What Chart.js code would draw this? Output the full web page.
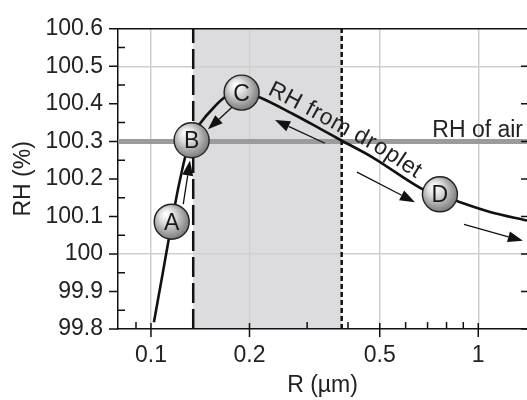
<!DOCTYPE html>
<html><head><meta charset="utf-8">
<script src="https://cdn.jsdelivr.net/npm/chart.js@4/dist/chart.umd.min.js"></script>
<style>html,body{margin:0;padding:0;background:#fff;}canvas{display:block;}</style>
</head><body>
<canvas id="c" width="527" height="400"></canvas>
<script>
// ---- data ----
const curveR  = [0.1021, 0.1088, 0.1159, 0.1226, 0.1316, 0.1411, 0.1558, 0.1707, 0.1896, 0.2154, 0.2716, 0.3283, 0.3806, 0.4764, 0.6775, 0.7636, 0.8792, 1.086, 1.409];
const curveRH = [99.818, 99.952, 100.086, 100.197, 100.303, 100.347, 100.391, 100.421, 100.432, 100.417, 100.373, 100.334, 100.303, 100.257, 100.172, 100.159, 100.138, 100.112, 100.089];

const xMin = 0.0793, xMax = 1.409;
const yMin = 99.8, yMax = 100.6;
const xTicks = [0.1, 0.2, 0.5, 1];
const xTickLabels = ['0.1', '0.2', '0.5', '1'];
const xMinorTicks = [0.09, 0.3, 0.4, 0.6, 0.7, 0.8, 0.9];
const yTicks = [99.8, 99.9, 100, 100.1, 100.2, 100.3, 100.4, 100.5, 100.6];
const yTickLabels = ['99.8', '99.9', '100', '100.1', '100.2', '100.3', '100.4', '100.5', '100.6'];
const yMinorTicks = [99.85, 99.95, 100.05, 100.15, 100.25, 100.35, 100.45, 100.55];
const yGridValues = [100, 100.5];

const airRH = 100.3;
const airLabel = 'RH of air';
const airLabelR = 1.37, airLabelRH = 100.311;
const criticalR = 0.1346;   // long-dashed line
const crossR = 0.3826;      // dotted line
const curveLabel = 'RH from droplet';
const curveLabelStartR = 0.222;

const markerLabels = ['A', 'B', 'C', 'D'];
const markerR  = [0.1157, 0.1331, 0.1892, 0.7636];
const markerRH = [100.086, 100.303, 100.430, 100.159];

const arrowFromR  = [0.1255, 0.1768, 0.3401, 0.4260, 0.9044];
const arrowFromRH = [100.133, 100.391, 100.295, 100.218, 100.079];
const arrowToR    = [0.1316, 0.1493, 0.2393, 0.6405, 1.369];
const arrowToRH   = [100.249, 100.332, 100.357, 100.138, 100.035];

const FONT = "'Liberation Sans', Arial, sans-serif";
const TXT = '#222';

function drawArrow(ctx, x0, y0, x1, y1) {
  const ang = Math.atan2(y1 - y0, x1 - x0);
  const L = 15, W = 5.5;
  const bx = x1 - L * Math.cos(ang), by = y1 - L * Math.sin(ang);
  ctx.beginPath();
  ctx.moveTo(x0, y0); ctx.lineTo(bx, by);
  ctx.strokeStyle = '#111'; ctx.lineWidth = 1.3; ctx.stroke();
  ctx.beginPath();
  ctx.moveTo(x1, y1);
  ctx.lineTo(bx + W * Math.sin(ang), by - W * Math.cos(ang));
  ctx.lineTo(bx - W * Math.sin(ang), by + W * Math.cos(ang));
  ctx.closePath(); ctx.fillStyle = '#111'; ctx.fill();
}

const annot = {
  id: 'annot',
  beforeDraw(chart) {
    const {ctx, chartArea: a, scales: {x}} = chart;
    const x0 = x.getPixelForValue(criticalR), x1 = x.getPixelForValue(crossR);
    ctx.save();
    ctx.fillStyle = '#dcdcde';
    ctx.fillRect(x0, a.top, x1 - x0, a.bottom - a.top);
    ctx.restore();
  },
  afterDatasetsDraw(chart) {
    const {ctx, scales: {x, y}} = chart;
    ctx.save();
    // RH of air label
    ctx.font = '23px ' + FONT; ctx.fillStyle = TXT;
    ctx.textAlign = 'right'; ctx.textBaseline = 'alphabetic';
    ctx.fillText(airLabel, x.getPixelForValue(airLabelR), y.getPixelForValue(airLabelRH));

    // text along the curve
    const meta = chart.getDatasetMeta(0);
    const el = meta.data;
    const pts = [];
    for (let i = 0; i < el.length - 1; i++) {
      const p0 = el[i], p3 = el[i + 1];
      const c1x = p0.cp2x ?? p0.x, c1y = p0.cp2y ?? p0.y;
      const c2x = p3.cp1x ?? p3.x, c2y = p3.cp1y ?? p3.y;
      for (let k = 0; k < 24; k++) {
        const t = k / 24, u = 1 - t;
        pts.push({
          x: u*u*u*p0.x + 3*u*u*t*c1x + 3*u*t*t*c2x + t*t*t*p3.x,
          y: u*u*u*p0.y + 3*u*u*t*c1y + 3*u*t*t*c2y + t*t*t*p3.y
        });
      }
    }
    pts.push({x: el[el.length - 1].x, y: el[el.length - 1].y});
    const cum = [0];
    for (let i = 1; i < pts.length; i++) cum.push(cum[i - 1] + Math.hypot(pts[i].x - pts[i-1].x, pts[i].y - pts[i-1].y));
    function at(s) {
      let i = 1; while (i < pts.length - 1 && cum[i] < s) i++;
      const a = pts[i - 1], b = pts[i];
      const f = (s - cum[i - 1]) / (cum[i] - cum[i - 1] || 1);
      return {x: a.x + (b.x - a.x) * f, y: a.y + (b.y - a.y) * f, ang: Math.atan2(b.y - a.y, b.x - a.x)};
    }
    const sx = x.getPixelForValue(curveLabelStartR);
    let s = 0; { let i = 0; while (i < pts.length - 1 && pts[i].x < sx) i++; s = cum[i]; }
    ctx.textAlign = 'center'; ctx.textBaseline = 'alphabetic';
    const off = 6, spacing = 0.6;
    for (const ch of curveLabel) {
      const w = ctx.measureText(ch).width;
      const p = at(s + w / 2);
      const nx = Math.sin(p.ang), ny = -Math.cos(p.ang);
      ctx.save();
      ctx.translate(p.x + nx * off, p.y + ny * off);
      ctx.rotate(p.ang);
      ctx.fillText(ch, 0, 0);
      ctx.restore();
      s += w + spacing;
    }

    // arrows
    for (let i = 0; i < arrowFromR.length; i++) {
      drawArrow(ctx, x.getPixelForValue(arrowFromR[i]), y.getPixelForValue(arrowFromRH[i]),
                     x.getPixelForValue(arrowToR[i]), y.getPixelForValue(arrowToRH[i]));
    }
    // markers
    const r = 17.5;
    for (let i = 0; i < markerLabels.length; i++) {
      const cx = x.getPixelForValue(markerR[i]), cy = y.getPixelForValue(markerRH[i]);
      const g = ctx.createRadialGradient(cx - r * 0.35, cy - r * 0.45, 1, cx - r * 0.1, cy - r * 0.1, r * 1.15);
      g.addColorStop(0, '#ffffff');
      g.addColorStop(0.35, '#dedede');
      g.addColorStop(1, '#777777');
      ctx.beginPath(); ctx.arc(cx, cy, r, 0, Math.PI * 2);
      ctx.fillStyle = g; ctx.fill();
      ctx.lineWidth = 1.4; ctx.strokeStyle = '#222'; ctx.stroke();
      ctx.fillStyle = '#1a1a1a'; ctx.font = '23px ' + FONT;
      ctx.textAlign = 'center'; ctx.textBaseline = 'alphabetic';
      ctx.fillText(markerLabels[i], cx, cy + 8.2);
    }
    ctx.restore();
  },
  afterDraw(chart) {
    const {ctx, chartArea: a, scales: {x, y}} = chart;
    ctx.save();
    ctx.strokeStyle = '#111'; ctx.lineWidth = 1.5;
    ctx.beginPath();
    ctx.moveTo(a.left, a.top); ctx.lineTo(a.right, a.top);
    for (const v of yTicks) {
      const py = y.getPixelForValue(v);
      ctx.moveTo(a.left - 9, py); ctx.lineTo(a.left, py);
      ctx.moveTo(a.right - 6, py); ctx.lineTo(a.right, py);
    }
    for (const v of yMinorTicks) {
      const py = y.getPixelForValue(v);
      ctx.moveTo(a.left, py); ctx.lineTo(a.left + 7, py);
    }
    for (const v of xTicks) {
      const px = x.getPixelForValue(v);
      ctx.moveTo(px, a.bottom - 6); ctx.lineTo(px, a.bottom + 8);
    }
    for (const v of xMinorTicks) {
      const px = x.getPixelForValue(v);
      ctx.moveTo(px, a.bottom - 7); ctx.lineTo(px, a.bottom);
    }
    ctx.stroke();
    ctx.restore();
  }
};

const pts = (xs, ys) => xs.map((v, i) => ({x: v, y: ys[i]}));

new Chart(document.getElementById('c'), {
  type: 'line',
  data: {
    datasets: [
      { label: 'RH from droplet', data: pts(curveR, curveRH), borderColor: '#111', borderWidth: 2.6,
        pointRadius: 0, tension: 0.35, order: 0 },
      { label: 'critical', data: pts([criticalR, criticalR], [yMin, yMax]), borderColor: '#111', borderWidth: 2.5,
        borderDash: [20, 6], pointRadius: 0, order: 1 },
      { label: 'cross', data: pts([crossR, crossR], [yMin, yMax]), borderColor: '#111', borderWidth: 2.5,
        borderDash: [5, 3], pointRadius: 0, order: 1 },
      { label: 'RH of air', data: pts([xMin, xMax], [airRH, airRH]), borderColor: '#9b9b9b', borderWidth: 5,
        pointRadius: 0, order: 2 }
    ]
  },
  options: {
    responsive: false, animation: false, devicePixelRatio: 1,
    layout: { padding: { top: 19, right: 0, left: 0, bottom: 0 } },
    plugins: { legend: { display: false }, tooltip: { enabled: false } },
    scales: {
      x: {
        type: 'logarithmic', min: xMin, max: xMax,
        afterBuildTicks: s => { s.ticks = xTicks.map(v => ({ value: v })); },
        afterFit: s => { s.height = 71; },
        ticks: { autoSkip: false, maxRotation: 0, padding: 13, color: TXT,
                 font: { family: FONT, size: 23, lineHeight: 1.2 },
                 callback: (v, i) => xTickLabels[i] },
        grid: { drawTicks: false, color: '#cfcfcf', lineWidth: 1.5 },
        border: { display: true, color: '#111', width: 1.5 },
        title: { display: true, text: 'R (µm)', color: TXT, font: { family: FONT, size: 23, lineHeight: 1 },
                 padding: { top: 0, bottom: 2.5 } }
      },
      y: {
        type: 'linear', min: yMin, max: yMax,
        afterBuildTicks: s => { s.ticks = yTicks.map(v => ({ value: v })); },
        afterFit: s => { s.width = 118; },
        ticks: { autoSkip: false, padding: 15, color: TXT,
                 font: { family: FONT, size: 23, lineHeight: 1.2 },
                 callback: (v, i) => yTickLabels[i] },
        grid: { drawTicks: false, lineWidth: 1.5,
                color: c => (c.tick && yGridValues.some(g => Math.abs(g - c.tick.value) < 1e-6)) ? '#cfcfcf' : 'rgba(0,0,0,0)' },
        border: { display: true, color: '#111', width: 1.5 },
        title: { display: true, text: 'RH (%)', color: TXT, font: { family: FONT, size: 23, lineHeight: 1 },
                 padding: { top: 12, bottom: 0 } }
      }
    }
  },
  plugins: [annot]
});
</script>
</body></html>
